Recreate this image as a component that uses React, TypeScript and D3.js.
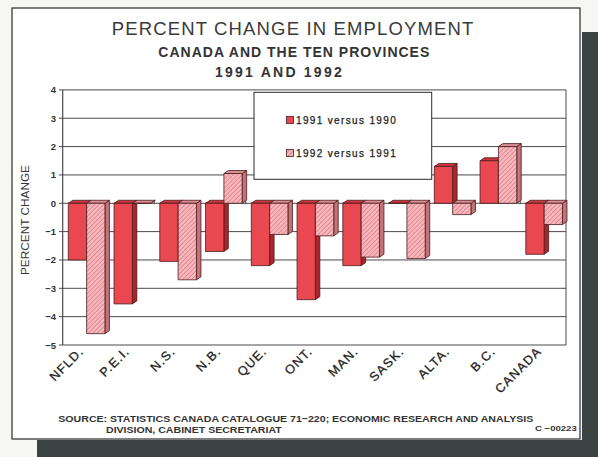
import React from "react";
import * as d3 from "d3";

const W = 598;
const H = 457;

const provinces = ["NFLD.", "P.E.I.", "N.S.", "N.B.", "QUE.", "ONT.", "MAN.", "SASK.", "ALTA.", "B.C.", "CANADA"];
const change1991 = [-2.0, -3.55, -2.05, -1.7, -2.2, -3.4, -2.2, 0, 1.3, 1.5, -1.8];
const change1992 = [-4.6, 0, -2.7, 1.05, -1.1, -1.15, -1.9, -1.95, -0.4, 2.0, -0.75];
const seriesNames = ["1991 versus 1990", "1992 versus 1991"];
const yTicks = [4, 3, 2, 1, 0, -1, -2, -3, -4, -5];

const plot = { left: 62.7, right: 566, top: 89.9, bottom: 345 };
const DX = 4.5;
const DY = 3;

const ink = "#2b2b2b";
const redFace = "#ea4850";
const redSide = "#a8262c";
const redTop = "#c9363c";
const pinkFace = "#f5b6bc";
const pinkSide = "#c4727a";
const pinkTop = "#dc8e95";
const outline = "#4a1c1c";

const sans = "'Liberation Sans', Arial, sans-serif";

function Bar({ x, w, v, y, face, side, top, hatched }: any) {
  const y0 = y(0);
  const yTop = y(Math.max(v, 0));
  const yBot = y(Math.min(v, 0));
  const sidePts = [
    [x + w, yTop],
    [x + w + DX, yTop - DY],
    [x + w + DX, yBot - DY],
    [x + w, yBot],
  ];
  const topPts = [
    [x, yTop],
    [x + DX, yTop - DY],
    [x + w + DX, yTop - DY],
    [x + w, yTop],
  ];
  const pts = (p: number[][]) => p.map((q) => q.join(",")).join(" ");
  return (
    <g stroke={outline} strokeWidth={0.8} strokeLinejoin="round">
      <polygon points={pts(sidePts)} fill={side} />
      <polygon points={pts(topPts)} fill={top} />
      {yBot - yTop > 0 && (
        <rect x={x} y={yTop} width={w} height={yBot - yTop} fill={hatched ? "url(#hatch)" : face} />
      )}
      {v === 0 && <line x1={x} x2={x + w} y1={y0} y2={y0} />}
    </g>
  );
}

export default function App() {
  const x = d3.scaleBand<string>().domain(provinces).range([plot.left, plot.right]).padding(0);
  const y = d3.scaleLinear().domain([-5, 4]).range([plot.bottom, plot.top]);
  const bw = x.bandwidth();
  const barW = bw * 0.4;
  const off1 = bw * 0.122;
  const off2 = bw * 0.523;

  const boundaries = provinces.slice(1).map((p) => x(p) as number);

  return (
    <svg
      width={W}
      height={H}
      viewBox={`0 0 ${W} ${H}`}
      style={{ position: "absolute", left: 0, top: 0, display: "block" }}
    >
      <defs>
        <pattern id="hatch" width={3.2} height={3.2} patternUnits="userSpaceOnUse" patternTransform="rotate(45)">
          <rect width={3.2} height={3.2} fill={pinkFace} />
          <line x1={0} y1={0} x2={0} y2={3.2} stroke="#d8606a" strokeWidth={1} />
        </pattern>
      </defs>

      <rect x={0} y={0} width={W} height={H} fill="#f6f6f4" />

      {/* drop shadow of the card */}
      <rect x={582} y={32} width={16} height={425} fill="#3b4242" />
      <rect x={37} y={440} width={561} height={17} fill="#3b4242" />

      {/* card */}
      <rect x={12} y={8} width={568} height={431} fill="#ffffff" stroke={ink} strokeWidth={1.2} />

      {/* titles */}
      <text x={111.7} y={35} fontFamily={sans} fontWeight={400} fontSize={18.5}
        fill="#3a3a3a" textLength={361.6} lengthAdjust="spacing">
        PERCENT CHANGE IN EMPLOYMENT
      </text>
      <text x={158.3} y={56.7} fontFamily={sans} fontWeight={700} fontSize={14}
        fill="#333" textLength={271} lengthAdjust="spacing">
        CANADA AND THE TEN PROVINCES
      </text>
      <text x={215} y={76.7} fontFamily={sans} fontWeight={700} fontSize={14}
        fill="#333" textLength={126.7} lengthAdjust="spacing">
        1991 AND 1992
      </text>

      {/* gridlines and y ticks */}
      {yTicks.map((t) => (
        <g key={t}>
          <line x1={plot.left} x2={plot.right} y1={y(t)} y2={y(t)} stroke="#4a4a4a" strokeWidth={1} />
          <line x1={59} x2={plot.left} y1={y(t)} y2={y(t)} stroke="#4a4a4a" strokeWidth={1} />
          <text x={56} y={y(t) + 3.5} textAnchor="end" fontFamily={sans} fontWeight={700} fontSize={9.5} fill="#333">
            {t < 0 ? `\u2212${-t}` : t}
          </text>
        </g>
      ))}
      <line x1={plot.left} x2={plot.left} y1={plot.top} y2={plot.bottom} stroke="#4a4a4a" strokeWidth={1.2} />
      <line x1={plot.right} x2={plot.right} y1={plot.top} y2={plot.bottom} stroke="#4a4a4a" strokeWidth={1} />
      {boundaries.map((b, i) => (
        <line key={i} x1={b} x2={b} y1={y(0) - 3} y2={y(0) + 1} stroke="#4a4a4a" strokeWidth={1} />
      ))}

      {/* legend */}
      <rect x={254} y={92.3} width={177.7} height={87} fill="#ffffff" stroke={ink} strokeWidth={1} />
      <rect x={286.5} y={116.5} width={7} height={7} fill={redFace} stroke={outline} strokeWidth={0.8} />
      <text x={296} y={123.5} fontFamily={sans} fontWeight={400} fontSize={10} fill="#222"
        stroke="#222" strokeWidth={0.25} textLength={99.7} lengthAdjust="spacing">
        {seriesNames[0]}
      </text>
      <rect x={286.5} y={149.5} width={7} height={7} fill="url(#hatch)" stroke={outline} strokeWidth={0.8} />
      <text x={296} y={156.5} fontFamily={sans} fontWeight={400} fontSize={10} fill="#222"
        stroke="#222" strokeWidth={0.25} textLength={99.7} lengthAdjust="spacing">
        {seriesNames[1]}
      </text>

      {/* bars */}
      {provinces.map((p, i) => {
        const bx = x(p) as number;
        return (
          <g key={p}>
            <Bar x={bx + off1} w={barW} v={change1991[i]} y={y} face={redFace} side={redSide} top={redTop} />
            <Bar x={bx + off2} w={barW} v={change1992[i]} y={y} face={pinkFace} side={pinkSide} top={pinkTop} hatched />
          </g>
        );
      })}

      {/* category labels */}
      {provinces.map((p) => {
        const cx = (x(p) as number) + bw / 2 - 1;
        return (
          <text key={p} transform={`translate(${cx},${352}) rotate(-45)`} textAnchor="end"
            fontFamily={sans} fontWeight={400} fontSize={12.5} letterSpacing={1.2} fill="#222"
            stroke="#222" strokeWidth={0.3}>
            {p}
          </text>
        );
      })}

      {/* y axis title */}
      <text transform="translate(29,220) rotate(-90)" textAnchor="middle" fontFamily={sans} fontWeight={400}
        fontSize={10} fill="#333" textLength={110} lengthAdjust="spacingAndGlyphs">
        PERCENT CHANGE
      </text>

      {/* source note */}
      <text x={58.3} y={422} fontFamily={sans} fontWeight={700} fontSize={9.5} fill="#333"
        textLength={475} lengthAdjust="spacingAndGlyphs">
        SOURCE: STATISTICS CANADA CATALOGUE 71−220; ECONOMIC RESEARCH AND ANALYSIS
      </text>
      <text x={106} y={432.5} fontFamily={sans} fontWeight={700} fontSize={9.5} fill="#333"
        textLength={175.7} lengthAdjust="spacingAndGlyphs">
        DIVISION, CABINET SECRETARIAT
      </text>
      <text x={535} y={431} fontFamily={sans} fontWeight={700} fontSize={8} fill="#333"
        textLength={41.7} lengthAdjust="spacingAndGlyphs">
        C −00223
      </text>
    </svg>
  );
}
